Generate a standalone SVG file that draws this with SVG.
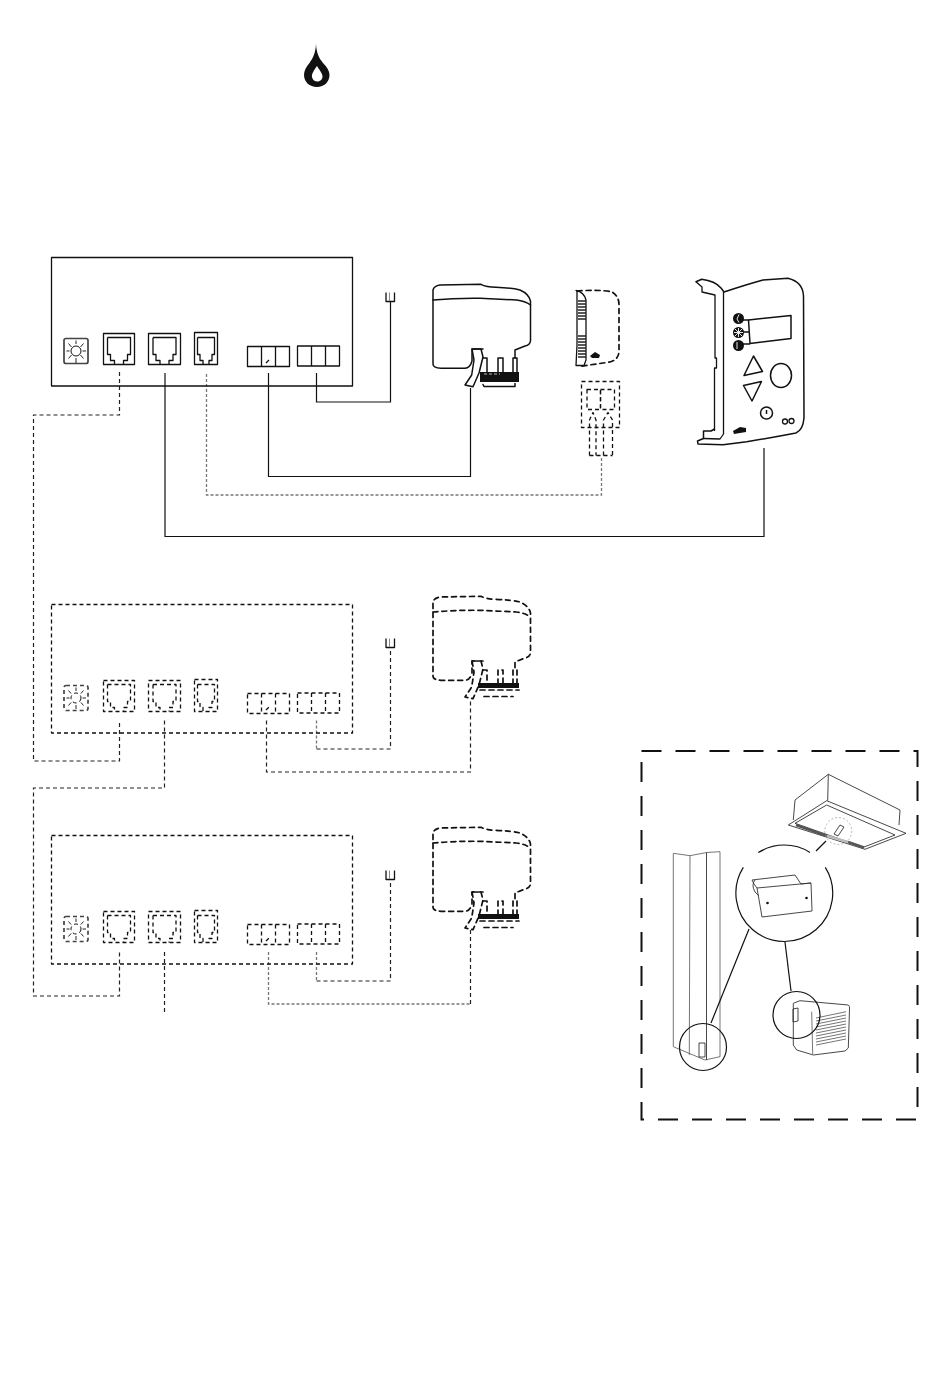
<svg xmlns="http://www.w3.org/2000/svg" width="950" height="1378" viewBox="0 0 950 1378">
<style>
.l{fill:none;stroke:#111;stroke-width:1.3;stroke-linejoin:round}
.h{fill:none;stroke:#111;stroke-width:1.5;stroke-linejoin:round;stroke-linecap:round}
.t{fill:none;stroke:#333;stroke-width:.9;stroke-linejoin:round}
.g{fill:none;stroke:#666;stroke-width:.9}
.k{fill:#111;stroke:none}
.d{stroke-dasharray:4 3}
.db{stroke-dasharray:5 4;stroke-width:1.7}
.c{fill:none;stroke:#111;stroke-width:1.2}
.cd{fill:none;stroke:#222;stroke-width:1.2;stroke-dasharray:4 3}
.cg{fill:none;stroke:#777;stroke-width:1.3;stroke-dasharray:3 2}
</style>
<defs>
<g id="ports">
<rect x="51.500" y="257.500" width="301" height="128.500"/>
<rect x="103.500" y="333.500" width="31" height="31"/>
<path d="M107.500 337.500H130.500V354.500H127.500V360.500H123.500V364.500M107.500 337.500V354.500H110.500V360.500H114.500V364.500"/>
<rect x="148.500" y="333.500" width="32" height="31"/>
<path d="M153 337.500H176V354.500H173V360.500H169V364.500M153 337.500V354.500H156V360.500H160V364.500"/>
<rect x="194.500" y="332.500" width="23" height="32"/>
<path d="M197.500 337.500H214.500V354.500H212V360.500H209V364.500M197.500 337.500V354.500H200V360.500H203V364.500"/>
<rect x="247.500" y="346.500" width="42" height="20"/>
<path d="M261.500 346.500V366.500M275.500 346.500V366.500M266 363L269 360"/>
<rect x="297.500" y="346" width="42" height="20"/>
<path d="M311.500 346V366M325.500 346V366"/>
<rect x="64" y="338.500" width="24" height="25" rx="2" stroke="#444" stroke-width="1.700"/>
<circle cx="76" cy="351" r="5" stroke-width="1"/>
<path stroke-width=".9" d="M76 340.500V344M76 358V363M66.500 351H69.500M82.500 351H86M68.500 343.500L71.500 347M83.500 343.500L80.500 347M68.500 358.500L71.500 355M83.500 358.500L80.500 355"/>
</g>
<g id="act">
<path d="M483 349H472V361Q470 368 465 368.300H441Q433 368 433 364V290Q434 286 440 285L481 284.300Q486 287 496 287.300Q512 288 520 290Q529 294 530.500 301V341Q530 345 525 346L515 350V358"/>
<path d="M433 300Q455 298 480 298.300L516.700 300Q525 301 530.500 305"/>
<path d="M472 349H481L483 357L479 373L473 386.700L465 385L471.700 375L474 360Z"/>
<path d="M483 358H487V372M498 372V358H503V372M513 372V358H517V372"/>
</g>
<g id="band-solid">
<path d="M480 372H519V382H480Z"/>
</g>
<g id="band-dash">
<path d="M478 683H519V688H478Z"/>
</g>
<path id="u" d="M386 292.500V301.500H394.500V292.500"/>
</defs>

<g id="drop"><path class="k" fill-rule="evenodd" d="M316 44C316.500 53 319 58 323 63C327 67 329.500 71 329.500 75C329.500 82 324 87 317 87C309.500 87 304 82 304 75C304 71 306 67 309.500 63C313 58 315.500 53 316 44ZM317 66C314 70 311.500 74 312 77C312.500 80 315 81.500 317.500 81.500C320.500 81.500 322.500 79 322.500 76.500C322.500 73.500 319.500 70 317 66Z"/></g>

<g id="connectors">
<path class="cd" d="M119.500 372V415H33.500V761H119.500V720.500"/>
<path class="c" d="M165 373V536.500H764V448"/>
<path class="cg" d="M206.500 374V495H601.500V456"/>
<path class="c" d="M268.500 373V476.500H470.500V388"/>
<path class="c" d="M316.500 373V402H390.500V302"/>
<path class="cd" d="M164.500 720.500V788H33.500V996H119.500V952"/>
<path class="cd" d="M266.500 720.500V772H470.500V700"/>
<path class="cd" d="M316.500 749H390.500V650"/>
<path class="cg" d="M316.500 720.500V749"/>
<path class="cd" d="M164.500 952V1014"/>
<path class="cg" d="M268.500 952V1004H470.500"/>
<path class="cd" d="M470.500 1004V930"/>
<path class="cg" d="M316.500 952V981"/>
<path class="cd" d="M316.500 981H390.500V882"/>
</g>

<g id="controller-1"><use href="#ports" class="l"/></g>
<g id="valve-1"><use href="#u" class="l"/><path d="M389.500 292.500V301" stroke="#888" fill="none"/></g>
<g id="controller-2"><use href="#ports" class="l d" y="347"/></g>
<g id="valve-2"><use href="#u" class="l" y="346"/><path d="M389.500 638.500V647" stroke="#888" fill="none"/></g>
<g id="controller-3"><use href="#ports" class="l d" y="578"/></g>
<g id="valve-3"><use href="#u" class="l" y="578"/><path d="M389.500 870.500V879" stroke="#888" fill="none"/></g>

<g id="actuator-1">
<use href="#act" class="h"/>
<use href="#band-solid" class="k"/>
<path class="h" d="M483 384.500L484 386.500H515V383.500"/>
<path d="M484 374H500" stroke="#fff" stroke-width=".7" stroke-dasharray="3 2"/>
</g>
<g id="actuator-2">
<use href="#act" class="h db" y="312"/>
<use href="#band-dash" class="k"/>
<path class="h db" d="M480 690H519M484 696.500H513"/>
</g>
<g id="actuator-3">
<use href="#act" class="h db" y="543"/>
<use href="#band-dash" class="k" y="231"/>
<path class="h db" d="M480 921H519M484 927.500H513"/>
</g>

<g id="sensor">
<path class="h db" d="M577 291C590 290 605 290 612 292Q619 296 619 305V352Q618 360 610 362L579 366.500"/>
<path class="l" d="M576 290.500Q584 292 586 300V360L584 365.500H576L577 345L577 291Z"/>
<path d="M578 301H586M578 304H586M578 307H586M578 310H586M578 313H586M578 316H586M578 319H586M578 336H586M578 339H586M578 342H586M578 345H586M578 348H586M578 351H586M578 354H586M578 357H586" stroke="#222" stroke-width="1.300" fill="none"/>
<path class="k" d="M590 356L595 352L600 355L599 358L592 358Z"/>
</g>

<g id="wiring">
<rect class="l d" x="581.500" y="381.500" width="38" height="46"/>
<rect class="l d" x="587" y="389.500" width="13.500" height="20"/>
<rect class="l d" x="600.500" y="389.500" width="14" height="20"/>
<path class="l d" d="M589.500 455.500V420L593 412.500L596 420V455.500M603.500 455.500V420L608 412.500L612.500 420V455.500M589.500 455.500H612.500"/>
</g>

<g id="thermostat">
<path class="h" d="M696 281.700L701.700 279.300Q715 281 721 288L724 292Q745 285 763 280L788 278.300Q803 282 803.500 296L804 418Q803 430 796 433Q770 438 746.700 441.700L723 444.700L698 444L697.500 441L703.500 438.500V431H711L714.500 429"/>
<path class="l" d="M696 281.700L702 287V292L715 295V358H716.500V368H714.500V431M703.500 438.500L720 439L723.500 434V292"/>
<path class="h" d="M748.500 320L791 315.500V338.500L750 343.500Z"/>
<path class="l" d="M743 320H748.500M743 332H750M743 344H750"/>
<circle class="k" cx="738.500" cy="318.500" r="5.500"/><circle class="k" cx="738.500" cy="332.500" r="5.500"/><circle class="k" cx="738.500" cy="345.500" r="5.500"/>
<path d="M739 314.500L737 319L739 322.500M734 332.500H743M738.500 328V337M735 329L742 336M742 329L735 336M737 342V349" stroke="#fff" stroke-width=".9" fill="none"/>
<path class="h" d="M753.500 356L762.500 371.500L744 375.500Z"/>
<path class="h" d="M743.500 385.500L761.500 381.500L752 401Z"/>
<ellipse class="h" cx="781" cy="375.500" rx="10.500" ry="12"/>
<circle class="h" cx="766.500" cy="413" r="6"/>
<path d="M766.500 410V414" stroke="#111" stroke-width="1.500"/>
<circle class="l" cx="785" cy="421.500" r="2.500"/><circle class="l" cx="791.500" cy="421" r="2.500"/>
<path class="k" d="M733 431L740 427L746 428V432L734 434Z"/>
</g>

<g id="inset">
<rect x="641.500" y="751" width="276" height="368.500" fill="none" stroke="#111" stroke-width="2" stroke-dasharray="20 14"/>
<g id="ceiling-unit">
<path class="t" d="M828.300 774.300L900 810L899 825M828.300 774.300L795 800L793.300 820M828.300 774.300L827.700 800.700"/>
<path class="t" d="M788.300 825L826.700 800.700L906 833.300L865 849.300Z"/>
<path class="t" d="M795 823.300L826.700 805L895 835L863.300 847.300Z"/>
<path d="M796 825L827 836M848 842L864 847.500" stroke="#555" stroke-width="2.500" fill="none"/>
<path d="M827 836L848 842" stroke="#bbb" stroke-width="2.500" fill="none"/>
<circle cx="838.300" cy="831" r="13.500" fill="none" stroke="#999" stroke-width=".7" stroke-dasharray="2 2"/>
<path class="t" d="M834 834L840 825L844 827L838 836Z"/>
</g>
<g id="column">
<path class="g" d="M673.300 853.300L690 855.700L706.700 852.500L720 851.700V1056.700L705 1060L673.300 1046.700V853.300M690 855.700L689.300 1055"/>
<path class="t" d="M706.500 852.500V1060"/>
<path class="t" d="M699 1043H705V1057H699Z"/>
</g>
<g id="wall-unit">
<path class="t" d="M793.300 1003.300L800 1000.700L848.300 1005Q850 1006 849.500 1009L848.300 1048L845 1051L813.300 1055L796.700 1050L793.300 1045Z"/>
<path class="g" d="M811.700 1011.700L812.700 1054M816 1018L846 1011.700M816 1021L846 1015M816 1024L846 1018M816 1027L846 1021M816 1030L846 1024M816 1033L846 1027M816 1036L846 1030M816 1039L846 1033M816 1042L846 1036M816 1045L846 1039"/>
<path class="t" d="M793 1009L798 1008V1021L793 1022Z"/>
</g>
<g id="callouts">
<path class="c" d="M758.300 852.600A48.400 48.400 0 0 1 810 852.400"/>
<path class="c" d="M743.300 867.400A48.400 48.400 0 1 0 825.300 867.400"/>
<path class="c" d="M816 851L826 841"/>
<path class="c" d="M749 929L711 1023"/>
<path class="c" d="M785 942L791 991"/>
<circle class="c" cx="703" cy="1047" r="23.500"/>
<circle class="c" cx="796.500" cy="1015" r="23.500"/>
</g>
<g id="bracket">
<path class="t" d="M752 880L795 875L801 884L811 883L812 911L762 917L757 888L754 884Z"/>
<path class="t" d="M757 888L811 883M755 880Q751 885 755 892L759 896"/>
<circle class="k" cx="767.500" cy="903" r="1.300"/>
<circle class="k" cx="806.500" cy="898" r="1.300"/>
</g>
</g>
</svg>
